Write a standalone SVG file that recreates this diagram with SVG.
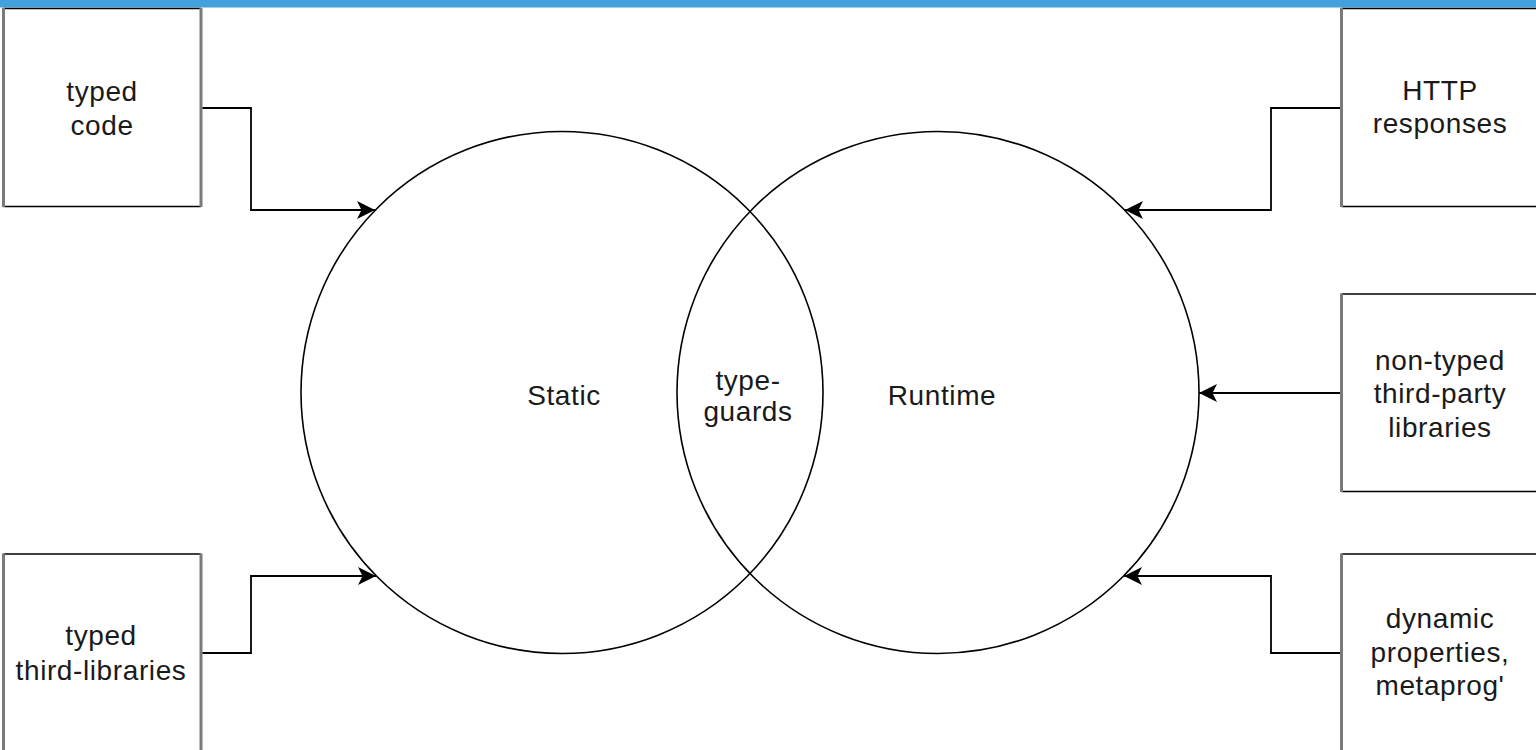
<svg xmlns="http://www.w3.org/2000/svg" width="1536" height="750" viewBox="0 0 1536 750">
  <style>
    .box { fill: #ffffff; stroke: none; }
    .hedge { stroke: #000000; stroke-width: 1.6; }
    .vedge { stroke: #7a7a7a; stroke-width: 3; }
    .circ { fill: none; stroke: #000000; stroke-width: 1.6; }
    .conn { fill: none; stroke: #000000; stroke-width: 1.8; }
    text { font-family: "Liberation Sans", Arial, Helvetica, sans-serif; font-size: 28px; letter-spacing: 0.6px; fill: #1a1a1a; text-anchor: middle; }
  </style>
  <defs>
    <marker id="arrow" viewBox="0 0 20 20" refX="18" refY="10" markerWidth="20" markerHeight="20" markerUnits="userSpaceOnUse" orient="auto">
      <path d="M18,10 L0,1 L4.5,10 L0,19 Z" fill="#000000"/>
    </marker>
  </defs>
  <rect x="0" y="0" width="1536" height="750" fill="#ffffff"/>
  <rect x="0" y="0" width="1536" height="7.5" fill="#42a0dc"/>

  <g id="circle-static">
    <circle class="circ" cx="562" cy="392.5" r="261"/>
    <text x="564" y="405">Static</text>
  </g>
  <g id="circle-runtime">
    <circle class="circ" cx="938" cy="392.5" r="261"/>
    <text x="942" y="405">Runtime</text>
  </g>
  <g id="typeguards">
    <text x="748" y="390">type-</text>
    <text x="748" y="421">guards</text>
  </g>

  <g id="node-typed-code">
    <rect class="box" x="3.5" y="8.5" width="197.5" height="198"/>
    <line class="hedge" x1="3.5" y1="8.5" x2="201" y2="8.5"/>
    <line class="hedge" x1="3.5" y1="206.5" x2="201" y2="206.5"/>
    <line class="vedge" x1="3.5" y1="8" x2="3.5" y2="207"/>
    <line class="vedge" x1="201" y1="8" x2="201" y2="207"/>
    <text x="102" y="101">typed</text>
    <text x="102" y="135">code</text>
  </g>
  <g id="node-typed-third">
    <rect class="box" x="3.5" y="554" width="197.5" height="200"/>
    <line class="hedge" x1="3.5" y1="554" x2="201" y2="554"/>
    <line class="vedge" x1="3.5" y1="553.5" x2="3.5" y2="752"/>
    <line class="vedge" x1="201" y1="553.5" x2="201" y2="752"/>
    <text x="101" y="645">typed</text>
    <text x="101" y="680">third-libraries</text>
  </g>
  <g id="node-http">
    <rect class="box" x="1341.5" y="8.5" width="200" height="198"/>
    <line class="hedge" x1="1341.5" y1="8.5" x2="1540" y2="8.5"/>
    <line class="hedge" x1="1341.5" y1="206.5" x2="1540" y2="206.5"/>
    <line class="vedge" x1="1341.5" y1="8" x2="1341.5" y2="207"/>
    <text x="1440" y="100">HTTP</text>
    <text x="1440" y="133">responses</text>
  </g>
  <g id="node-nontyped">
    <rect class="box" x="1341.5" y="294" width="200" height="197.5"/>
    <line class="hedge" x1="1341.5" y1="294" x2="1540" y2="294"/>
    <line class="hedge" x1="1341.5" y1="491.5" x2="1540" y2="491.5"/>
    <line class="vedge" x1="1341.5" y1="293.5" x2="1341.5" y2="492"/>
    <text x="1440" y="370">non-typed</text>
    <text x="1440" y="403">third-party</text>
    <text x="1440" y="437">libraries</text>
  </g>
  <g id="node-dynamic">
    <rect class="box" x="1341.5" y="554" width="200" height="200"/>
    <line class="hedge" x1="1341.5" y1="554" x2="1540" y2="554"/>
    <line class="vedge" x1="1341.5" y1="553.5" x2="1341.5" y2="752"/>
    <text x="1440" y="628">dynamic</text>
    <text x="1440" y="662">properties,</text>
    <text x="1440" y="695">metaprog'</text>
  </g>

  <g id="connectors">
    <path class="conn" d="M202.5,108 H251 V210 H375" marker-end="url(#arrow)"/>
    <path class="conn" d="M202.5,653 H251 V576 H376" marker-end="url(#arrow)"/>
    <path class="conn" d="M1340,108 H1271 V210 H1125" marker-end="url(#arrow)"/>
    <path class="conn" d="M1340,393 H1199" marker-end="url(#arrow)"/>
    <path class="conn" d="M1340,653 H1271 V576 H1124" marker-end="url(#arrow)"/>
  </g>
</svg>
